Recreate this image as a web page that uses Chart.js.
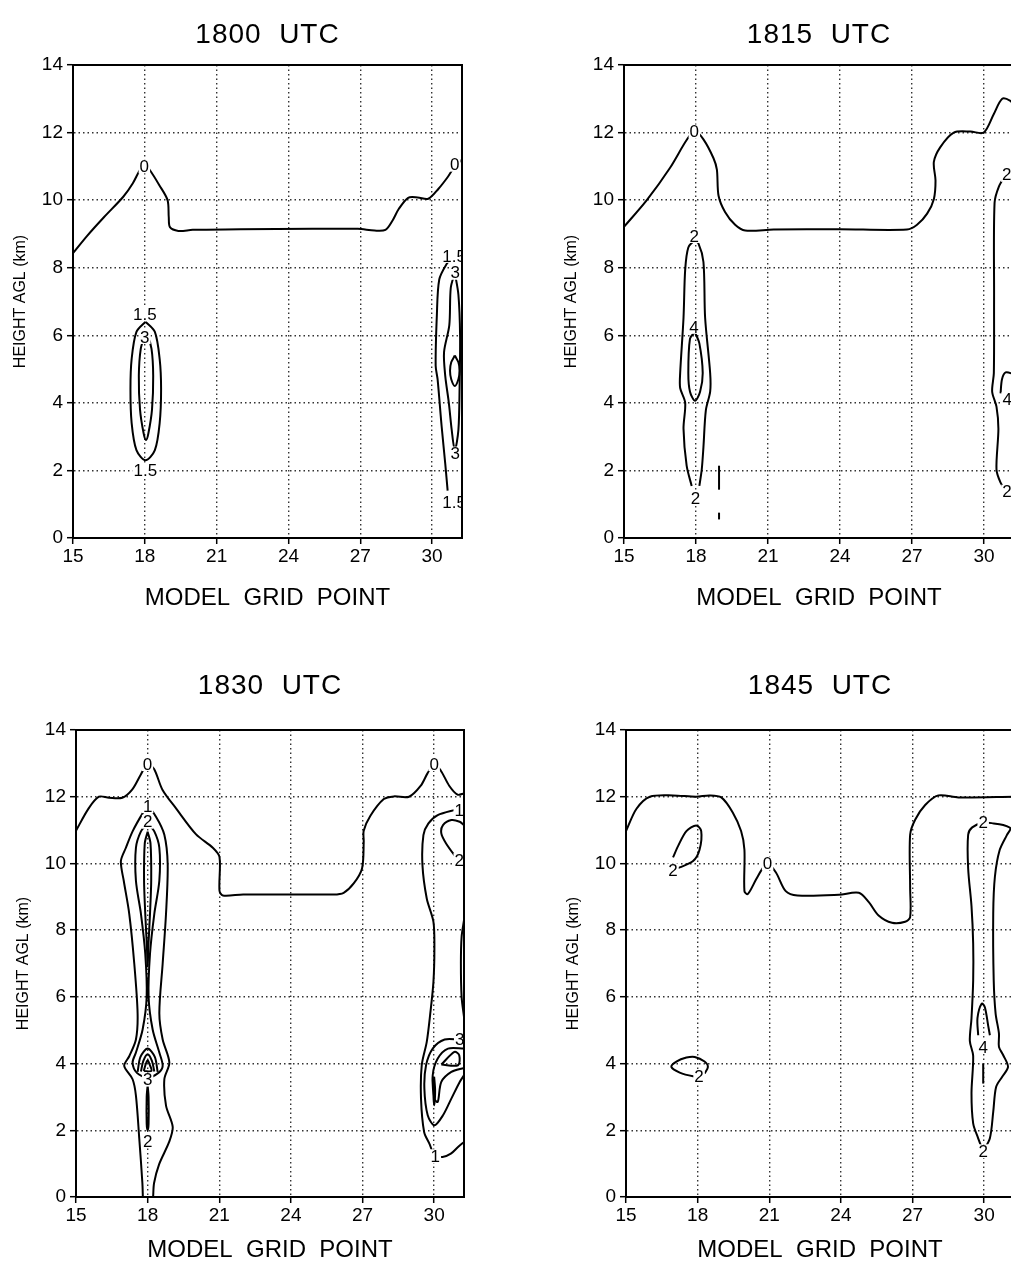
<!DOCTYPE html>
<html>
<head>
<meta charset="utf-8">
<script src="https://cdn.jsdelivr.net/npm/chart.js@4.4.0/dist/chart.umd.min.js"></script>
<style>
  html, body { margin: 0; padding: 0; background: #fff; overflow: hidden; }
  body { width: 1011px; height: 1268px; position: relative; }
  canvas { position: absolute; }
</style>
</head>
<body>
<canvas id="c1800" width="505" height="640" style="left:0;top:0"></canvas>
<canvas id="c1815" width="505" height="640" style="left:551px;top:0"></canvas>
<canvas id="c1830" width="505" height="618" style="left:0;top:650px"></canvas>
<canvas id="c1845" width="505" height="618" style="left:551px;top:650px"></canvas>
<script>
// axes
const xTicks = [15, 18, 21, 24, 27, 30];
const yTicks = [0, 2, 4, 6, 8, 10, 12, 14];
const xRange = [15, 31.25];
const yRange = [0, 14];
const titles = ['1800 UTC', '1815 UTC', '1830 UTC', '1845 UTC'];

// 1800 UTC contours [grid point, km]
const c1800Zero = [[15,8.43],[15.6,8.95],[16.3,9.5],[17.1,10.1],[17.5,10.5],[17.8,10.9],[18.0,11.05],[18.2,10.9],[18.6,10.45],[18.95,10.0],[19.0,9.5],[19.05,9.2],[19.4,9.09],[20,9.12],[22,9.14],[25,9.15],[26.9,9.15],[27.6,9.1],[28.05,9.12],[28.35,9.4],[28.6,9.73],[29.0,10.07],[29.4,10.08],[29.84,10.04],[30.26,10.33],[30.67,10.7],[30.95,11.0],[31.25,11.2]];
const c1800A15 = [[18.03,6.4],[17.65,6.1],[17.45,5.3],[17.4,4.4],[17.45,3.4],[17.65,2.6],[18.03,2.3],[18.42,2.6],[18.62,3.4],[18.68,4.4],[18.62,5.3],[18.42,6.1],[18.03,6.4]];
const c1800A3 = [[18.0,6.0],[17.83,5.6],[17.75,4.8],[17.8,3.8],[17.95,3.1],[18.05,2.9],[18.15,3.1],[18.3,3.8],[18.35,4.8],[18.28,5.6],[18.1,6.0],[18.0,6.0]];
const c1800B15 = [[30.85,8.3],[30.6,8.1],[30.3,7.65],[30.2,6.6],[30.15,5.1],[30.23,4.7],[30.4,3.3],[30.55,2.2],[30.65,1.4]];
const c1800B3 = [[30.95,7.85],[30.78,7.4],[30.72,6.3],[30.5,5.5],[30.55,4.8],[30.7,4.0],[30.82,3.2],[30.95,2.6],[31.1,3.2],[31.15,4.5],[31.17,6.0],[31.1,7.2],[30.95,7.85]];
const c1800Ring = [[30.95,5.4],[30.8,5.2],[30.75,4.95],[30.8,4.7],[30.95,4.5],[31.1,4.7],[31.15,4.95],[31.1,5.2],[30.95,5.4]];
const l1800 = [[17.98,11.0,'0'],[30.95,11.05,'0'],[18.0,6.62,'1.5'],[18.0,5.95,'3'],[18.02,2.0,'1.5'],[30.92,8.35,'1.5'],[30.97,7.85,'3'],[30.97,2.5,'3'],[30.92,1.05,'1.5']];

// 1815 UTC
const c1815Zero = [[15,9.21],[15.95,10.0],[16.92,10.96],[17.61,11.78],[17.95,12.05],[18.31,11.8],[18.73,11.24],[18.87,10.9],[18.94,10.13],[19.21,9.65],[19.63,9.27],[20.05,9.1],[21.23,9.13],[24,9.14],[26.79,9.13],[27.21,9.27],[27.63,9.6],[27.91,10.03],[27.98,10.58],[27.91,11.13],[28.18,11.57],[28.74,12.0],[29.44,12.03],[29.99,12.0],[30.41,12.55],[30.76,13.0],[31.1,12.94],[31.25,12.8]];
const c1815A2 = [[17.82,1.54],[17.61,2.14],[17.48,3.23],[17.55,4.0],[17.34,4.44],[17.34,4.88],[17.48,6.52],[17.55,7.95],[17.68,8.6],[17.93,8.78],[18.1,8.72],[18.31,8.17],[18.38,6.52],[18.59,4.88],[18.59,4.33],[18.41,3.78],[18.31,2.69],[18.24,2.03],[18.14,1.54]];
const c1815A4 = [[17.95,6.1],[17.75,5.9],[17.68,4.88],[17.75,4.33],[17.96,4.06],[18.17,4.33],[18.28,4.88],[18.14,5.76],[17.95,6.1]];
const c1815A1 = [[18.96,2.14],[18.96,1.43]];
const c1815A1b = [[18.96,0.75],[18.96,0.55]];
const c1815B2 = [[30.9,10.75],[30.62,10.4],[30.44,9.92],[30.42,7.07],[30.41,4.88],[30.34,4.33],[30.52,3.89],[30.6,3.23],[30.52,2.03],[30.69,1.64],[30.94,1.37]];
const c1815B4 = [[30.69,4.28],[30.75,4.7],[30.9,4.9],[31.25,4.85]];
const l1815 = [[17.93,12.03,'0'],[17.93,8.94,'2'],[17.92,6.25,'4'],[17.98,1.18,'2'],[30.95,10.75,'2'],[30.97,4.11,'4'],[30.96,1.37,'2']];

// 1830 UTC
const c1830Zero = [[15,10.98],[15.53,11.65],[15.96,12.0],[16.38,11.97],[16.94,11.97],[17.36,12.22],[17.71,12.66],[17.99,12.98],[18.27,12.83],[18.62,12.21],[19.19,11.65],[20.03,10.87],[20.73,10.47],[21.01,10.19],[21.01,9.18],[21.15,9.04],[22,9.07],[25.79,9.07],[26.21,9.12],[26.63,9.4],[26.98,9.85],[27.05,10.64],[27.05,10.98],[27.33,11.43],[27.89,11.93],[28.31,12.01],[28.95,12.0],[29.44,12.33],[29.72,12.7],[30.0,12.98],[30.28,12.78],[30.63,12.33],[30.98,12.06],[31.25,12.1]];
const c1830A1 = [[17.8,0],[17.78,0.42],[17.65,1.75],[17.51,3.04],[17.37,3.53],[17.02,3.93],[17.23,4.22],[17.51,4.72],[17.58,5.5],[17.44,7.0],[17.23,8.49],[17.0,9.48],[16.88,10.07],[17.09,10.47],[17.37,10.96],[17.79,11.5],[18.0,11.7],[18.35,11.4],[18.7,10.86],[18.84,9.97],[18.77,8.49],[18.63,7.0],[18.49,5.51],[18.63,4.72],[18.91,4.03],[18.7,3.53],[18.77,2.74],[19.05,2.1],[18.9,1.65],[18.48,0.98],[18.27,0.42],[18.23,0]];
const c1830A2 = [[18.0,11.2],[17.72,10.96],[17.51,10.47],[17.51,9.48],[17.72,8.49],[17.9,7.3],[17.96,6.0],[17.79,5.02],[17.51,4.33],[17.37,4.03],[17.55,3.72],[18.0,3.58],[18.45,3.72],[18.63,3.93],[18.49,4.33],[18.21,5.02],[18.04,6.0],[18.1,7.3],[18.28,8.49],[18.49,9.48],[18.49,10.47],[18.28,10.96],[18.0,11.2]];
const c1830A3 = [[18.0,10.95],[17.88,10.6],[17.85,9.5],[17.9,8.5],[17.97,7.5],[18.0,6.9],[18.03,7.5],[18.1,8.5],[18.15,9.5],[18.12,10.6],[18.0,10.95]];
const c1830A4 = [[17.58,3.75],[17.7,4.2],[18.0,4.45],[18.3,4.2],[18.42,3.75]];
const c1830A5 = [[17.72,3.76],[17.82,4.08],[18.0,4.28],[18.18,4.08],[18.28,3.76]];
const c1830A6 = [[17.84,3.78],[17.92,3.98],[18.0,4.1],[18.08,3.98],[18.16,3.78],[17.84,3.78]];
const c1830A7 = [[18.0,3.35],[17.96,3.0],[17.96,2.2],[18.0,2.0],[18.04,2.2],[18.04,3.0],[18.0,3.35]];
const c1830B1 = [[30.95,11.62],[30.15,11.45],[29.76,11.2],[29.55,10.85],[29.51,9.95],[29.69,8.95],[29.97,8.25],[30.01,7.45],[29.97,6.45],[29.83,5.45],[29.69,4.65],[29.48,3.95],[29.45,2.95],[29.58,1.95],[29.8,1.6],[30.02,1.25],[30.35,1.2],[30.7,1.3],[31.0,1.5],[31.25,1.65]];
const c1830B2 = [[31.0,10.1],[30.5,10.6],[30.3,10.9],[30.37,11.15],[30.72,11.3],[31.07,11.25],[31.25,11.15]];
const c1830B2b = [[31.25,8.3],[31.15,7.8],[31.12,7.0],[31.15,6.0],[31.25,5.4]];
const c1830B3 = [[31.05,4.72],[30.44,4.72],[29.94,4.45],[29.66,3.95],[29.59,3.25],[29.73,2.45],[30.01,2.15],[30.37,2.45],[30.72,2.95],[31.07,3.45],[31.25,3.65]];
const c1830B4 = [[31.25,4.45],[30.58,4.45],[30.15,4.15],[29.94,3.65],[30.01,2.95],[30.15,2.85],[30.3,3.45],[30.72,3.75],[31.25,3.87]];
const c1830B5 = [[30.3,3.97],[30.85,4.35],[31.05,4.25],[31.0,3.95],[30.3,3.97]];
const c1830B6 = [[30.0,3.6],[29.97,3.2],[30.0,2.75],[30.04,3.2],[30.0,3.6]];
const l1830 = [[17.99,12.98,'0'],[30.0,12.98,'0'],[18.0,11.72,'1'],[18.0,11.25,'2'],[18.0,3.52,'3'],[18.0,1.68,'2'],[31.05,11.6,'1'],[31.05,10.1,'2'],[31.07,4.72,'3'],[30.05,1.22,'1']];

// 1845 UTC
const c1845Zero = [[15,10.97],[15.44,11.64],[16.0,12.0],[16.97,12.04],[17.94,12.0],[18.5,12.04],[18.99,11.98],[19.47,11.53],[19.82,10.97],[19.96,10.41],[19.96,9.17],[20.1,9.08],[20.44,9.51],[20.72,9.85],[20.93,10.0],[21.28,9.73],[21.69,9.17],[22.18,9.04],[23.92,9.06],[24.75,9.12],[25.17,8.84],[25.58,8.44],[26.14,8.22],[26.69,8.25],[26.9,8.39],[26.9,9.28],[26.9,10.86],[27.11,11.31],[27.53,11.75],[28.08,12.04],[28.92,11.98],[31.25,12.0]];
const c1845A2 = [[16.97,9.8],[17.25,9.88],[17.81,10.07],[18.08,10.41],[18.15,10.97],[17.94,11.14],[17.53,10.97],[17.18,10.52],[16.97,10.18]];
const c1845A2b = [[18.06,3.62],[17.81,3.62],[17.25,3.73],[16.9,3.9],[17.11,4.06],[17.53,4.18],[17.88,4.2],[18.29,4.06],[18.43,3.9],[18.29,3.7]];
const c1845B2 = [[29.96,1.37],[29.75,1.76],[29.54,2.21],[29.47,3.11],[29.54,4.23],[29.4,4.68],[29.47,5.36],[29.54,6.48],[29.54,7.6],[29.47,8.72],[29.33,9.85],[29.33,10.86],[29.5,11.08],[29.96,11.22],[30.4,11.2],[30.8,11.15],[31.1,11.05],[30.95,10.85],[30.65,10.4],[30.45,9.6],[30.38,8.5],[30.4,6.5],[30.48,5.5],[30.62,4.9],[30.62,4.5],[30.8,4.25],[31.0,3.9],[30.75,3.6],[30.5,3.3],[30.38,2.55],[30.24,1.76],[29.96,1.37]];
const c1845B4 = [[29.75,4.85],[29.72,5.36],[29.9,5.8],[30.03,5.69],[30.17,5.13],[30.24,4.85]];
const c1845B1 = [[29.96,4.0],[29.96,3.4]];
const l1845 = [[20.93,10.0,'0'],[16.97,9.79,'2'],[18.06,3.62,'2'],[29.96,11.22,'2'],[29.96,4.5,'4'],[29.96,1.37,'2']];

const panels = [
  { id: 'c1800', lines: [c1800Zero, c1800A15, c1800A3, c1800B15, c1800B3, c1800Ring], labels: l1800,
    box: { left: 0, top: 0, w: 505, h: 640, l: 73, t: 65, r: 462, b: 538, titleY: 35, xTitleY: 598 } },
  { id: 'c1815', lines: [c1815Zero, c1815A2, c1815A4, c1815A1, c1815A1b, c1815B2, c1815B4], labels: l1815,
    box: { left: 551, top: 0, w: 505, h: 640, l: 624, t: 65, r: 1014, b: 538, titleY: 35, xTitleY: 598 } },
  { id: 'c1830', lines: [c1830Zero, c1830A1, c1830A2, c1830A3, c1830A4, c1830A5, c1830A6, c1830A7, c1830B1, c1830B2, c1830B2b, c1830B3, c1830B4, c1830B5, c1830B6], labels: l1830,
    box: { left: 0, top: 650, w: 505, h: 618, l: 76, t: 730, r: 464, b: 1197, titleY: 686, xTitleY: 1250 } },
  { id: 'c1845', lines: [c1845Zero, c1845A2, c1845A2b, c1845B2, c1845B4, c1845B1], labels: l1845,
    box: { left: 551, top: 650, w: 505, h: 618, l: 626, t: 730, r: 1014, b: 1197, titleY: 686, xTitleY: 1250 } }
];

const FONT = '"Liberation Sans", Arial, Helvetica, sans-serif';
const X_AXIS_H = 40;

function makePanel(p, title) {
  const bx = p.box;
  // contour labels, frame and titles
  const decor = {
    id: 'decor',
    afterDatasetsDraw(chart) {
      const { ctx, chartArea: a, scales: { x, y } } = chart;
      ctx.save();
      ctx.beginPath();
      ctx.rect(a.left, a.top, a.right - a.left, a.bottom - a.top);
      ctx.clip();
      ctx.font = '17px ' + FONT;
      ctx.textAlign = 'center';
      ctx.textBaseline = 'middle';
      ctx.fillStyle = '#fff';
      p.labels.forEach(([vx, vy, t]) => {
        const w = ctx.measureText(t).width + 2;
        ctx.fillRect(x.getPixelForValue(vx) - w / 2, y.getPixelForValue(vy) - 7, w, 14);
      });
      ctx.fillStyle = '#000';
      p.labels.forEach(([vx, vy, t]) => {
        ctx.fillText(t, x.getPixelForValue(vx), y.getPixelForValue(vy) + 1);
      });
      ctx.restore();

      ctx.save();
      ctx.strokeStyle = '#000';
      ctx.lineWidth = 2;
      ctx.strokeRect(a.left, a.top, a.right - a.left, a.bottom - a.top);
      ctx.restore();
    },
    afterDraw(chart) {
      const { ctx, chartArea: a } = chart;
      const cx = (a.left + a.right) / 2;
      ctx.save();
      ctx.fillStyle = '#000';
      ctx.textAlign = 'center';
      ctx.textBaseline = 'middle';
      ctx.font = '28px ' + FONT;
      ctx.letterSpacing = '1px';
      ctx.fillText(title.replace(' ', '  '), cx, bx.titleY - bx.top);
      ctx.letterSpacing = '0px';
      ctx.font = '24px ' + FONT;
      ctx.fillText('MODEL  GRID  POINT', cx, bx.xTitleY - bx.top);
      ctx.translate(a.left - 52, (a.top + a.bottom) / 2);
      ctx.rotate(-Math.PI / 2);
      ctx.font = '16px ' + FONT;
      ctx.fillText('HEIGHT AGL (km)', 0, 0);
      ctx.restore();
    }
  };

  const tickFont = { family: FONT, size: 19 };
  const gridOpts = {
    color: ctx => (ctx.tick && (ctx.tick.value === xRange[0] || ctx.tick.value === yRange[0] || ctx.tick.value === yRange[1])) ? 'rgba(0,0,0,0)' : '#333',
    lineWidth: 1.4,
    tickColor: '#000',
    tickLength: 6,
    tickWidth: 1.5
  };

  return new Chart(document.getElementById(p.id), {
    type: 'scatter',
    data: {
      datasets: p.lines.map(pts => ({
        data: pts.map(([x, y]) => ({ x, y })),
        showLine: true,
        borderColor: '#000',
        borderWidth: 2,
        pointRadius: 0,
        tension: 0.3,
        fill: false
      }))
    },
    options: {
      responsive: false,
      animation: false,
      events: [],
      layout: {
        padding: {
          left: 0,
          top: bx.t - bx.top,
          right: bx.left + bx.w - bx.r,
          bottom: bx.top + bx.h - bx.b - X_AXIS_H
        }
      },
      plugins: { legend: { display: false }, tooltip: { enabled: false } },
      scales: {
        x: {
          type: 'linear', min: xRange[0], max: xRange[1],
          afterBuildTicks: axis => { axis.ticks = xTicks.map(v => ({ value: v })); },
          afterFit: axis => { axis.height = X_AXIS_H; },
          ticks: { font: tickFont, color: '#000', padding: 1, maxRotation: 0, autoSkip: false },
          grid: gridOpts,
          border: { display: true, color: '#000', width: 2, dash: [1.5, 3] }
        },
        y: {
          type: 'linear', min: yRange[0], max: yRange[1],
          afterBuildTicks: axis => { axis.ticks = yTicks.map(v => ({ value: v })); },
          afterFit: axis => { axis.width = bx.l - bx.left; },
          ticks: { font: tickFont, color: '#000', padding: 4, autoSkip: false },
          grid: gridOpts,
          border: { display: true, color: '#000', width: 2, dash: [1.5, 3] }
        }
      }
    },
    plugins: [decor]
  });
}

panels.forEach((p, i) => makePanel(p, titles[i]));
</script>
</body>
</html>
